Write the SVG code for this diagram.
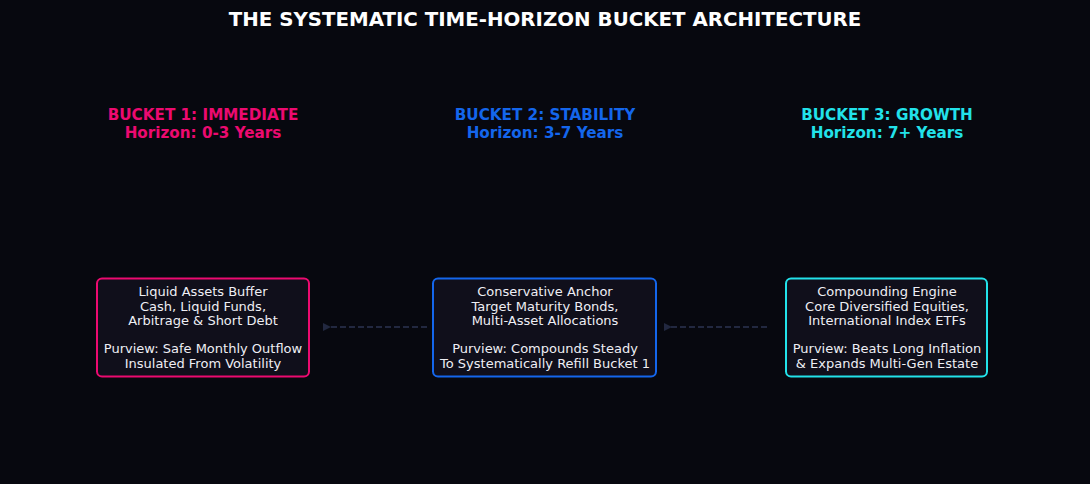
<svg xmlns="http://www.w3.org/2000/svg" width="1090" height="484" viewBox="0 0 1090 484">
<style>
text{font-family:"DejaVu Sans","Liberation Sans",sans-serif;text-anchor:middle}
.title{font-size:19.8px;font-weight:bold;fill:#ffffff}
.hd{font-size:15.2px;font-weight:bold}
.body{font-size:13px;fill:#eeeef4}
.box{fill:#100f1b;stroke-width:2}
.conn{stroke:#222840;stroke-width:2;stroke-dasharray:6,3;fill:none}
</style>
<defs>
<marker id="ah" markerWidth="8" markerHeight="8" refX="2" refY="4" orient="auto" markerUnits="userSpaceOnUse">
<path d="M8,0 L0,4 L8,8 Z" fill="#222840"/>
</marker>
</defs>
<rect width="1090" height="484" fill="#07080f"/>
<text class="title" x="545" y="26">THE SYSTEMATIC TIME-HORIZON BUCKET ARCHITECTURE</text>
<g id="connectors">
<line class="conn" x1="427" y1="327" x2="329" y2="327" marker-end="url(#ah)"/>
<line class="conn" x1="767" y1="327" x2="670" y2="327" marker-end="url(#ah)"/>
</g>
<g id="bucket1">
<text class="hd" x="203" y="120" fill="#ec0a70">BUCKET 1: IMMEDIATE</text>
<text class="hd" x="203" y="138" fill="#ec0a70">Horizon: 0-3 Years</text>
<rect class="box" x="97" y="278.5" width="212" height="98" rx="5" stroke="#ec0a70"/>
<text class="body" x="203" y="296">Liquid Assets Buffer</text>
<text class="body" x="203" y="310.5">Cash, Liquid Funds,</text>
<text class="body" x="203" y="325">Arbitrage &amp; Short Debt</text>
<text class="body" x="203" y="353">Purview: Safe Monthly Outflow</text>
<text class="body" x="203" y="367.5">Insulated From Volatility</text>
</g>
<g id="bucket2">
<text class="hd" x="545" y="120" fill="#1466ec">BUCKET 2: STABILITY</text>
<text class="hd" x="545" y="138" fill="#1466ec">Horizon: 3-7 Years</text>
<rect class="box" x="433" y="278.5" width="223" height="98" rx="5" stroke="#1466ec"/>
<text class="body" x="545" y="296">Conservative Anchor</text>
<text class="body" x="545" y="310.5">Target Maturity Bonds,</text>
<text class="body" x="545" y="325">Multi-Asset Allocations</text>
<text class="body" x="545" y="353">Purview: Compounds Steady</text>
<text class="body" x="545" y="367.5">To Systematically Refill Bucket 1</text>
</g>
<g id="bucket3">
<text class="hd" x="887" y="120" fill="#22e2ea">BUCKET 3: GROWTH</text>
<text class="hd" x="887" y="138" fill="#22e2ea">Horizon: 7+ Years</text>
<rect class="box" x="786" y="278.5" width="201" height="98" rx="5" stroke="#22e2ea"/>
<text class="body" x="887" y="296">Compounding Engine</text>
<text class="body" x="887" y="310.5">Core Diversified Equities,</text>
<text class="body" x="887" y="325">International Index ETFs</text>
<text class="body" x="887" y="353">Purview: Beats Long Inflation</text>
<text class="body" x="887" y="367.5">&amp; Expands Multi-Gen Estate</text>
</g>
</svg>
